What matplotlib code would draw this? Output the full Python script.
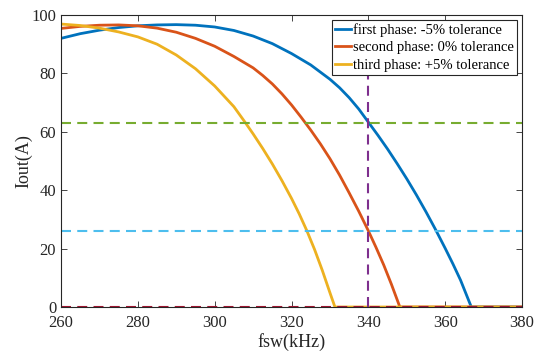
import matplotlib
matplotlib.use("Agg")
import matplotlib.pyplot as plt

# Data (switching frequency in kHz, output current in A)
f_blue = [260, 265, 270, 275, 280, 285, 290, 295, 300, 305, 310, 315, 320, 325, 330, 332.5, 335, 337.5,
          340, 342.5, 345, 347.5, 350, 352.5, 355, 357.5, 360, 362, 364, 366.8, 380]
i_blue = [92.0, 93.6, 94.8, 95.7, 96.3, 96.6, 96.7, 96.5, 95.9, 94.7, 92.8, 90.2, 86.8, 82.9, 78.0, 75.1, 71.7, 67.8,
          63.3, 58.8, 54.1, 49.1, 43.9, 38.4, 32.6, 26.5, 20.1, 14.8, 9.2, 0, 0]

f_orange = [260, 265, 270, 275, 280, 285, 290, 295, 300, 305, 310, 312.5, 315, 317.5, 320, 322.5, 325, 327.5,
            330, 332.5, 335, 337.5, 340, 342, 344, 346, 348.2, 380]
i_orange = [95.4, 96.1, 96.5, 96.6, 96.3, 95.5, 94.1, 92.0, 89.3, 85.8, 81.9, 79.3, 76.4, 73.0, 69.2, 65.0, 60.6, 55.9,
            50.8, 45.2, 39.1, 32.8, 26.1, 20.4, 14.4, 7.8, 0, 0]

f_yellow = [260, 265, 270, 275, 280, 285, 290, 295, 300, 305, 308, 310, 312.5, 315, 317.5, 320, 322, 324, 326,
            328, 330, 331.3, 380]
i_yellow = [96.9, 96.4, 95.5, 94.2, 92.5, 90.0, 86.3, 81.6, 75.7, 68.6, 63.1, 59.3, 54.3, 49.0, 43.3, 37.2, 31.9,
            26.1, 19.7, 12.6, 4.9, 0, 0]

labels = ["first phase: -5% tolerance", "second phase: 0% tolerance", "third phase: +5% tolerance"]
h_levels = [63, 26, 0]
v_level = 340
x_ticks = [260, 280, 300, 320, 340, 360, 380]
y_ticks = [0, 20, 40, 60, 80, 100]

plt.rcParams['font.family'] = ['Liberation Serif', 'DejaVu Serif']

fig = plt.figure(figsize=(5.39, 3.52), dpi=100)
ax = fig.add_axes([0.1132, 0.1278, 0.9685 - 0.1132, 0.9574 - 0.1278])

lw = 2.0
ax.plot(f_blue, i_blue, color='#0072BD', lw=lw, label=labels[0], solid_joinstyle='round')
ax.plot(f_orange, i_orange, color='#D95319', lw=lw, label=labels[1], solid_joinstyle='round')
ax.plot(f_yellow, i_yellow, color='#EDB120', lw=lw, label=labels[2], solid_joinstyle='round')

dash = (0, (4.8, 3.0))
ax.axhline(h_levels[0], color='#77AC30', lw=1.5, linestyle=dash)
ax.axhline(h_levels[1], color='#4DBEEE', lw=1.5, linestyle=dash)
ax.axhline(h_levels[2], color='#A2142F', lw=1.5, linestyle=dash)
ax.axvline(v_level, color='#7E2F8E', lw=1.5, linestyle=dash)

ax.set_xlim(260, 380)
ax.set_ylim(0, 100)
ax.set_xticks(x_ticks)
ax.set_yticks(y_ticks)
ax.tick_params(direction='in', top=True, right=True, labelsize=12, length=4, width=0.6, colors='#262626')
ax.tick_params(axis='x', pad=6)
for s in ax.spines.values():
    s.set_color('#262626')
    s.set_linewidth(0.8)
ax.set_xlabel('fsw(kHz)', fontsize=13, color='#262626', labelpad=1)
ax.set_ylabel('Iout(A)', fontsize=13, color='#262626', labelpad=-1)

leg = ax.legend(loc='upper right', fontsize=10.5, handlelength=1.1, handletextpad=0.15,
                borderpad=0.2, labelspacing=0.3, borderaxespad=0.35, fancybox=False,
                framealpha=1, edgecolor='#262626')
leg.get_frame().set_linewidth(0.8)

fig.savefig('out.png', dpi=100)
